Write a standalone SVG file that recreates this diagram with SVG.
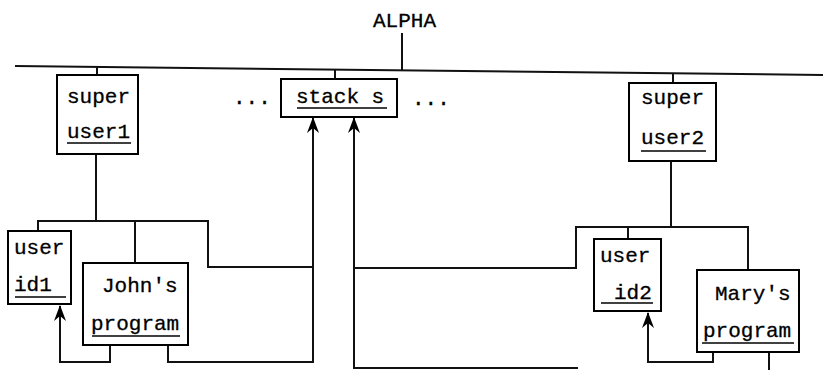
<svg xmlns="http://www.w3.org/2000/svg" width="823" height="370" viewBox="0 0 823 370">
<style>
.box{fill:#fff;stroke:#000;stroke-width:2}
.ln{fill:none;stroke:#111;stroke-width:2}
.ul{stroke:#000;stroke-width:1.5}
text{font-family:"Liberation Mono","DejaVu Sans Mono",monospace;font-size:21px;fill:#000;stroke:#000;stroke-width:0.3}
</style>
<defs>
<marker id="ah" markerUnits="userSpaceOnUse" markerWidth="16" markerHeight="14" refX="15" refY="7" orient="auto" viewBox="0 0 16 14">
<path d="M16,7 L0,1 L5,7 L0,13 Z" fill="#000"/>
</marker>
</defs>
<rect width="823" height="370" fill="#fff"/>
<g id="connectors">
<line class="ln" x1="15" y1="66" x2="823" y2="75"/>
<line class="ln" x1="402" y1="33" x2="402" y2="70"/>
<line class="ln" x1="97" y1="67" x2="97" y2="75"/>
<line class="ln" x1="335" y1="70" x2="335" y2="79"/>
<line class="ln" x1="673" y1="73" x2="673" y2="83"/>
<path class="ln" d="M96,154 V221"/>
<path class="ln" d="M38,231 V221 H208 V267 H313"/>
<path class="ln" d="M135,221 V263"/>
<path class="ln" d="M168,345 V362 H313 V118" marker-end="url(#ah)"/>
<path class="ln" d="M110,345 V362 H60 V306" marker-end="url(#ah)"/>
<path class="ln" d="M578,368 H354 V118" marker-end="url(#ah)"/>
<path class="ln" d="M354,268 H576 V227 H748 V270"/>
<path class="ln" d="M671,161 V227"/>
<path class="ln" d="M628,227 V239"/>
<path class="ln" d="M713,352 V362 H648 V313" marker-end="url(#ah)"/>
<path class="ln" d="M769,352 V370"/>
</g>
<g id="alpha"><text x="373" y="27">ALPHA</text></g>
<g id="dots-left"><text x="233" y="104">...</text></g>
<g id="dots-right"><text x="412" y="105">...</text></g>
<g id="superuser1">
<rect class="box" x="57" y="75" width="81" height="79"/>
<text x="67" y="103">super</text>
<text x="67" y="138">user1</text>
<line class="ul" x1="67" y1="143" x2="131" y2="143"/>
</g>
<g id="stack">
<rect class="box" x="281" y="79" width="116" height="38"/>
<text x="296" y="103">stack s</text>
<line class="ul" x1="297" y1="108" x2="387" y2="108"/>
</g>
<g id="superuser2">
<rect class="box" x="629" y="83" width="87" height="78"/>
<text x="641" y="104">super</text>
<text x="641" y="144">user2</text>
<line class="ul" x1="641" y1="151" x2="706" y2="151"/>
</g>
<g id="userid1">
<rect class="box" x="8" y="231" width="63" height="73"/>
<text x="14" y="254">user</text>
<text x="14" y="291">id1</text>
<line class="ul" x1="15" y1="297" x2="66" y2="297"/>
</g>
<g id="johns">
<rect class="box" x="83" y="263" width="105" height="82"/>
<text x="102" y="292">John's</text>
<text x="91" y="330">program</text>
<line class="ul" x1="92" y1="336" x2="180" y2="336"/>
</g>
<g id="userid2">
<rect class="box" x="594" y="239" width="67" height="72"/>
<text x="600" y="262">user</text>
<text x="614" y="299">id2</text>
<line class="ul" x1="601" y1="303" x2="653" y2="303"/>
</g>
<g id="marys">
<rect class="box" x="697" y="270" width="102" height="82"/>
<text x="715" y="300">Mary's</text>
<text x="703" y="337">program</text>
<line class="ul" x1="702" y1="343" x2="794" y2="343"/>
</g>
</svg>
